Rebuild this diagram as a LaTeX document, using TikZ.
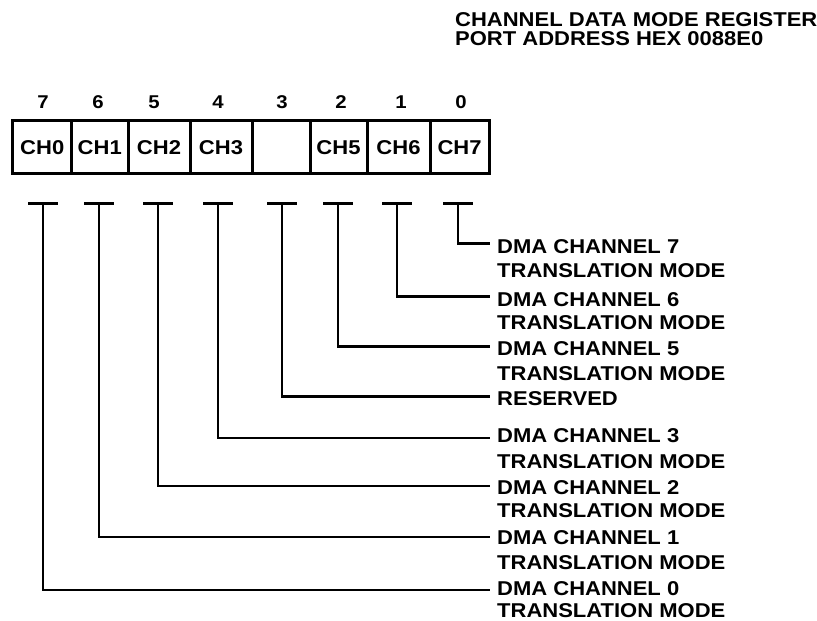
\documentclass[tikz,border=0pt]{standalone}
\usepackage{fontspec}
\setmainfont{Liberation Sans}[FakeStretch=1.1]
\begin{document}
\begin{tikzpicture}[x=1bp,y=-1bp,
  txt/.style={font=\bfseries\fontsize{20bp}{23bp}\selectfont, inner sep=0pt, text depth=0pt},
  lbl/.style={txt, anchor=west},
  bitnum/.style={font=\bfseries\fontsize{18.5bp}{21bp}\selectfont, inner sep=0pt},
  cell/.style={txt, draw, line width=3bp, minimum height=53bp, inner sep=0pt},
  wire/.style={line width=2.6bp},
  tbar/.style={line width=3bp}]
\useasboundingbox (0,0) rectangle (817,621);

% title
\node[lbl] (title1) at (455,20) {CHANNEL DATA MODE REGISTER};
\node[lbl] (title2) at (455,38.5) {PORT ADDRESS HEX 0088E0};

% bit numbers
\foreach \n/\x in {7/43,6/98,5/154,4/218,3/282,2/341,1/401,0/461}
  \node[bitnum] (b\n) at (\x,102) {\n};

% register cells
\node[cell, minimum width=58.5bp] (c0) at (42.25,147.5) {CH0};
\node[cell, minimum width=56.5bp] (c1) at (99.75,147.5) {CH1};
\node[cell, minimum width=62bp]   (c2) at (159,147.5) {CH2};
\node[cell, minimum width=62bp]   (c3) at (221,147.5) {CH3};
\node[cell, minimum width=58bp]   (c4) at (281,147.5) {};
\node[cell, minimum width=57bp]   (c5) at (338.5,147.5) {CH5};
\node[cell, minimum width=63bp]   (c6) at (398.5,147.5) {CH6};
\node[cell, minimum width=59bp]   (c7) at (459.5,147.5) {CH7};

% T bars
\foreach \k/\x in {0/43,1/99,2/158,3/218,4/282,5/338,6/397,7/458}{
  \coordinate (t\k) at (\x,203.5);
  \draw[tbar] ([xshift=-15bp]t\k) -- ([xshift=15bp]t\k);
}

% labels
\node[lbl] (l7) at (497,247) {DMA CHANNEL 7};
\node[lbl] (m7) at (497,271) {TRANSLATION MODE};
\node[lbl] (l6) at (497,299.5) {DMA CHANNEL 6};
\node[lbl] (m6) at (497,322.5) {TRANSLATION MODE};
\node[lbl] (l5) at (497,349) {DMA CHANNEL 5};
\node[lbl] (m5) at (497,374) {TRANSLATION MODE};
\node[lbl] (l4) at (497,399) {RESERVED};
\node[lbl] (l3) at (497,436) {DMA CHANNEL 3};
\node[lbl] (m3) at (497,462) {TRANSLATION MODE};
\node[lbl] (l2) at (497,488) {DMA CHANNEL 2};
\node[lbl] (m2) at (497,511) {TRANSLATION MODE};
\node[lbl] (l1) at (497,538) {DMA CHANNEL 1};
\node[lbl] (m1) at (497,563) {TRANSLATION MODE};
\node[lbl] (l0) at (497,589) {DMA CHANNEL 0};
\node[lbl] (m0) at (497,611) {TRANSLATION MODE};

% connectors
\draw[wire] (t7) |- ([xshift=-7bp,yshift=3.7bp]l7.west);
\draw[wire] (t6) |- ([xshift=-7bp,yshift=2.8bp]l6.west);
\draw[wire] (t5) |- ([xshift=-7bp,yshift=2.3bp]l5.west);
\draw[wire] (t4) |- ([xshift=-7bp,yshift=2.3bp]l4.west);
\draw[wire] (t3) |- ([xshift=-7bp,yshift=-2bp]l3.west);
\draw[wire] (t2) |- ([xshift=-7bp,yshift=2bp]l2.west);
\draw[wire] (t1) |- ([xshift=-7bp,yshift=1bp]l1.west);
\draw[wire] (t0) |- ([xshift=-7bp,yshift=-1bp]l0.west);
\end{tikzpicture}
\end{document}
